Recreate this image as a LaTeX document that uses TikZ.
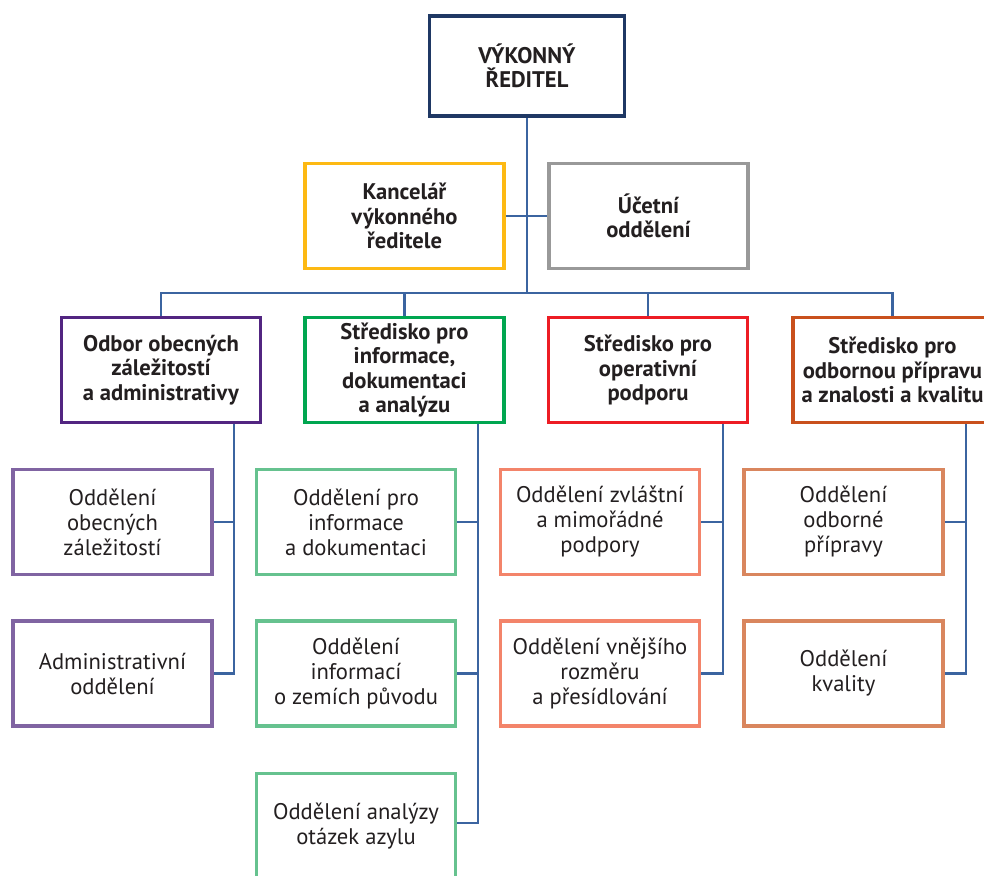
\documentclass[tikz,border=0pt]{standalone}
\usepackage{fontspec}
\setmainfont{PT Sans}
\usepackage{tikz}
\definecolor{txt}{HTML}{231F20}
\definecolor{wire}{HTML}{3B64A0}
\definecolor{navy}{HTML}{1F3864}
\definecolor{gold}{HTML}{FDB913}
\definecolor{ash}{HTML}{999999}
\definecolor{plum}{HTML}{522581}
\definecolor{leaf}{HTML}{00A650}
\definecolor{scarlet}{HTML}{ED1C24}
\definecolor{rust}{HTML}{C9501C}
\definecolor{lplum}{HTML}{8064A2}
\definecolor{lleaf}{HTML}{66C28F}
\definecolor{salmon}{HTML}{F3846A}
\definecolor{tan}{HTML}{D9865E}
\tikzset{
  box/.style={draw, line width=1.75pt, fill=white, align=center, text=txt,
    minimum width=99.5pt, minimum height=52.5pt, inner sep=2pt,
    font=\fontsize{11.3}{12.5}\selectfont},
  headbox/.style={box, font=\bfseries\fontsize{11.3}{12.2}\selectfont},
  link/.style={draw=wire, line width=1.2pt},
}

\begin{document}
\begin{tikzpicture}[x=0.5pt,y=-0.5pt]
    \clip (0,0) rectangle (984,876);
    % top
    \node[headbox, draw=navy, minimum width=97.5pt, minimum height=50pt] (ceo) at (527,66) {VÝKONNÝ\\ŘEDITEL};
    \node[headbox, draw=gold] (office) at (404.5,216) {Kancelář\\výkonného\\ředitele};
    \node[headbox, draw=ash] (acct) at (648.5,216) {Účetní\\oddělení};
    % row1
    \node[headbox, draw=plum] (gen) at (161,370) {Odbor obecných\\záležitostí\\a administrativy};
    \node[headbox, draw=leaf] (info) at (404.5,370) {Středisko pro\\informace,\\dokumentaci\\a analýzu};
    \node[headbox, draw=scarlet] (ops) at (648,370) {Středisko pro\\operativní\\podporu};
    \node[headbox, draw=rust] (train) at (892.5,370) {Středisko pro\\odbornou přípravu\\a znalosti a kvalitu};
    % row2
    \node[box, draw=lplum] (genaff) at (112.5,522) {Oddělení\\obecných\\záležitostí};
    \node[box, draw=lleaf] (infodoc) at (356,522) {Oddělení pro\\informace\\a dokumentaci};
    \node[box, draw=salmon] (special) at (600,522) {Oddělení zvláštní\\a mimořádné\\podpory};
    \node[box, draw=tan] (trdep) at (843.5,522) {Oddělení\\odborné\\přípravy};
    % row3
    \node[box, draw=lplum] (admin) at (112.5,673.5) {Administrativní\\oddělení};
    \node[box, draw=lleaf] (coi) at (356,673.5) {Oddělení\\informací\\o zemích původu};
    \node[box, draw=salmon] (ext) at (600,673.5) {Oddělení vnějšího\\rozměru\\a přesídlování};
    \node[box, draw=tan] (qual) at (843.5,673.5) {Oddělení\\kvality};
    % row4
    \node[box, draw=lleaf] (asyl) at (356,826) {Oddělení analýzy\\otázek azylu};

    % connectors
    \coordinate (bus) at (527,293);
    \coordinate (s1) at (234,424);
    \coordinate (s2) at (478,424);
    \coordinate (s3) at (723,424);
    \coordinate (s4) at (966,424);
    \draw[link] (ceo.south) -- (bus);
    \draw[link] (office.east) -- (acct.west);
    \draw[link] (gen.north) |- (bus) -| (train.north);
    \draw[link] (info.north) -- (info.north |- bus);
    \draw[link] (ops.north) -- (ops.north |- bus);
    \draw[link] (s1) |- (admin.east);
    \draw[link] (genaff.east) -- (genaff.east -| s1);
    \draw[link] (s2) |- ([yshift=1.5pt]asyl.east);
    \draw[link] (infodoc.east) -- (infodoc.east -| s2);
    \draw[link] (coi.east) -- (coi.east -| s2);
    \draw[link] (s3) |- (ext.east);
    \draw[link] (special.east) -- (special.east -| s3);
    \draw[link] (s4) |- (qual.east);
    \draw[link] (trdep.east) -- (trdep.east -| s4);
\end{tikzpicture}
\end{document}
